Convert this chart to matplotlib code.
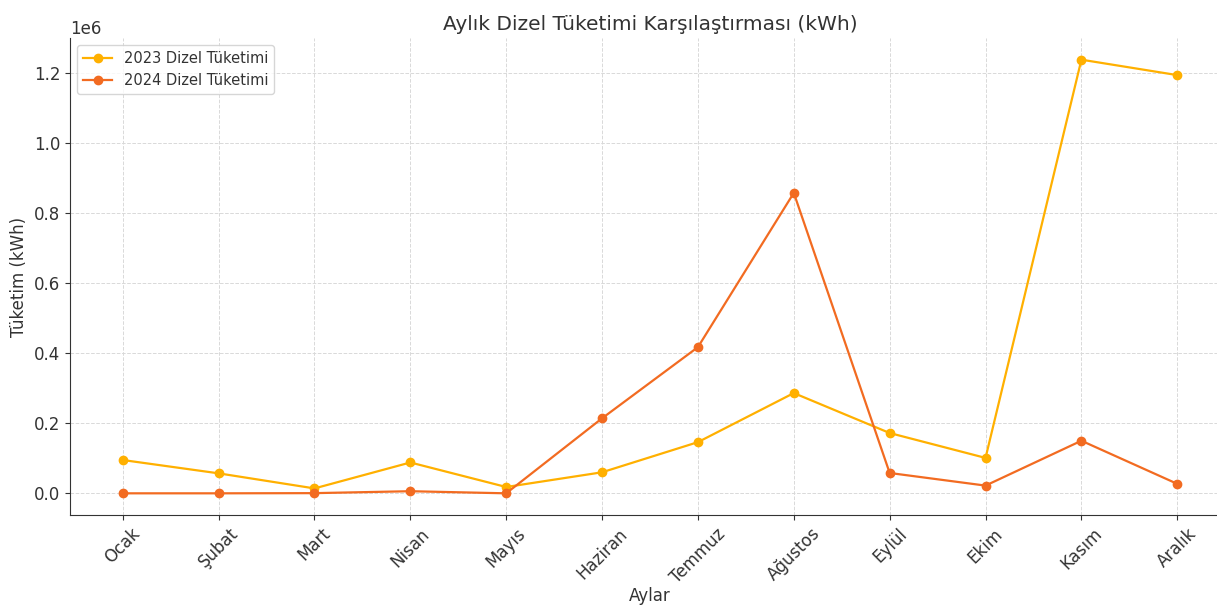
import matplotlib.pyplot as plt

# monthly diesel consumption (kWh)
months = ["Ocak", "Şubat", "Mart", "Nisan", "Mayıs", "Haziran",
          "Temmuz", "Ağustos", "Eylül", "Ekim", "Kasım", "Aralık"]
diesel_2023 = [95000, 57000, 14000, 88000, 18000, 60000,
               146000, 286000, 172000, 101000, 1237000, 1193000]
diesel_2024 = [0, 0, 500, 6000, 0, 214000,
               417000, 857000, 58000, 22000, 150000, 27000]

text_color = "#333333"
plt.rcParams["font.family"] = ["DejaVu Sans"]
plt.rcParams["text.color"] = text_color
plt.rcParams["axes.labelcolor"] = text_color
plt.rcParams["xtick.color"] = text_color
plt.rcParams["ytick.color"] = text_color

fig = plt.figure(figsize=(12.17, 6.05), dpi=100)
ax = fig.add_axes([70 / 1217, 90 / 605, 1160 / 1217, 477 / 605])

ax.plot(months, diesel_2023, marker="o", color="#ffb000", linewidth=1.6,
        markersize=6, label="2023 Dizel Tüketimi")
ax.plot(months, diesel_2024, marker="o", color="#f26b21", linewidth=1.6,
        markersize=6, label="2024 Dizel Tüketimi")

ax.set_title("Aylık Dizel Tüketimi Karşılaştırması (kWh)", fontsize=14.5)
ax.set_xlabel("Aylar", fontsize=12, labelpad=0)
ax.set_ylabel("Tüketim (kWh)", fontsize=12)
ax.tick_params(axis="x", labelsize=12, rotation=45)
ax.tick_params(axis="y", labelsize=12)
ax.yaxis.get_offset_text().set_fontsize(12)
ax.grid(True, linestyle="--", color="#d9d9d9", linewidth=0.7)

ax.spines["top"].set_visible(False)
ax.spines["right"].set_visible(False)
ax.spines["left"].set_color(text_color)
ax.spines["bottom"].set_color(text_color)

ax.legend(loc="upper left", fontsize=10.5)

fig.savefig("out.png")
